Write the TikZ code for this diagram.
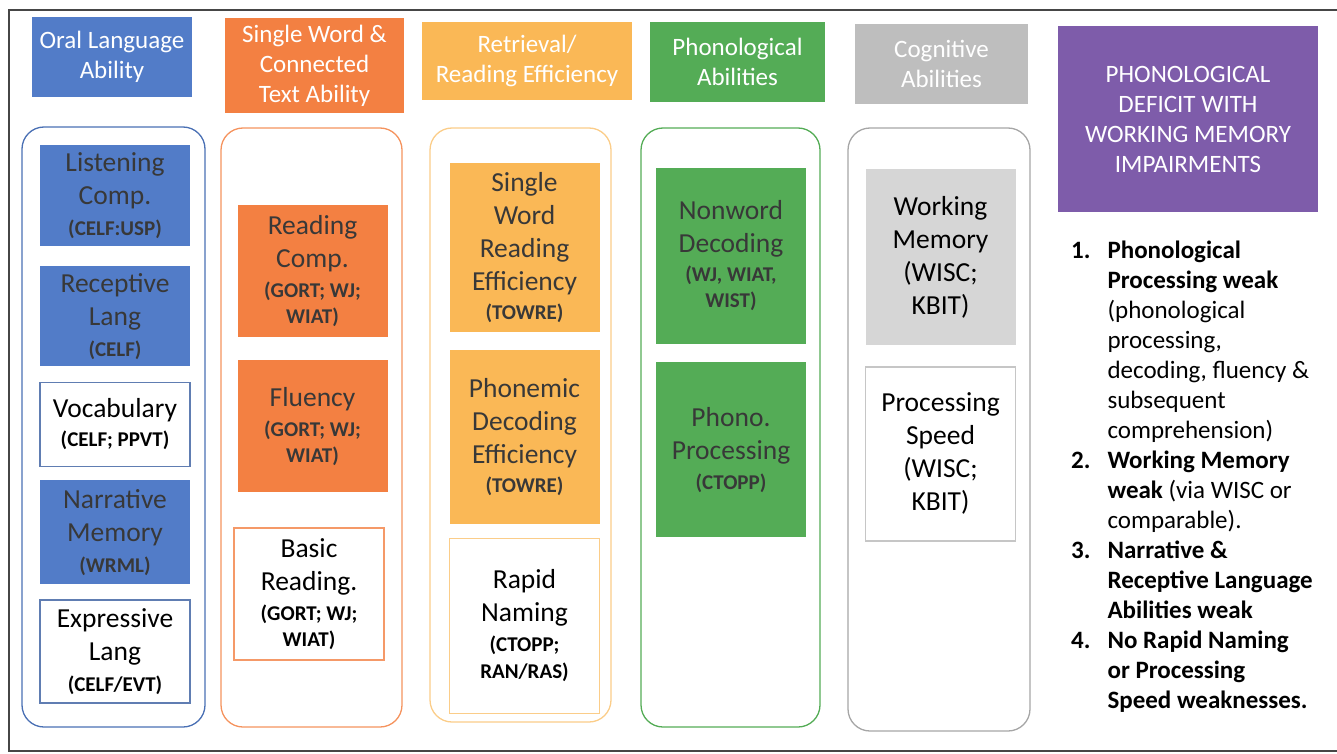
\documentclass[tikz,border=0pt]{standalone}
\usepackage{fontspec}
\setmainfont{Carlito}
\usetikzlibrary{positioning}
\definecolor{oralblue}{RGB}{82,124,200}
\definecolor{wordorange}{RGB}{243,128,66}
\definecolor{retrorange}{RGB}{250,184,86}
\definecolor{phongreen}{RGB}{84,172,86}
\definecolor{coggray}{RGB}{190,190,190}
\definecolor{wmgray}{RGB}{214,214,214}
\definecolor{defpurple}{RGB}{126,92,170}
\definecolor{framegray}{RGB}{70,70,70}
\newcommand{\headfont}{\fontsize{25}{30}\selectfont}
\newcommand{\boxfont}{\fontsize{27.5}{33}\selectfont}
\newcommand{\tname}[1]{{\fontsize{21}{24}\selectfont\bfseries #1}} % test names in brackets
\tikzset{
	frame/.style={draw=framegray, line width=1.4pt}, % outer frame of the figure
	column/.style={draw, rounded corners=22pt, line width=1.3pt}, % one column per ability
	header/.style={text=white, align=center, font=\headfont, inner sep=0pt},
	box/.style={align=center, font=\boxfont, text=black!78, minimum width=150pt, inner sep=0pt},
	plain/.style={box, fill=white, draw, line width=1.3pt, text=black}, % measures that are not weak
}

\begin{document}
\begin{tikzpicture}[x=1pt, y=-1pt]
	\useasboundingbox (0,0) rectangle (1337,754);
	\draw[frame] (1345,10) -- (9,10) -- (9,751) -- (1345,751);

	% headers
	\node[header, fill=oralblue, minimum width=160pt, minimum height=80pt] (oral) at (112,57) {Oral Language\\Ability};
	\node[header, fill=wordorange, minimum width=179pt, minimum height=95pt] (word) at (314.5,65.5) {Single Word \&\\Connected\\Text Ability};
	\node[header, fill=retrorange, minimum width=210pt, minimum height=78pt] (retr) at (527,61) {Retrieval/\\Reading Efficiency};
	\node[header, fill=phongreen, minimum width=175pt, minimum height=80pt] (phon) at (737.5,62) {Phonological\\Abilities};
	\node[header, fill=coggray, minimum width=173pt, minimum height=80pt] (cogn) at (941.5,64) {Cognitive\\Abilities};
	\node[header, fill=defpurple, minimum width=260pt, minimum height=186pt] (deficit) at (1188,119) {PHONOLOGICAL\\DEFICIT WITH\\WORKING MEMORY\\IMPAIRMENTS};

	% columns
	\node[column, draw=oralblue!90!black, minimum width=183pt, minimum height=600pt] (col1) at (113.5,427) {};
	\node[column, draw=wordorange!85, minimum width=181pt, minimum height=599pt] (col2) at (311.5,427.5) {};
	\node[column, draw=retrorange!70, minimum width=181pt, minimum height=594pt] (col3) at (520.5,425) {};
	\node[column, draw=phongreen, minimum width=179pt, minimum height=599pt] (col4) at (730.5,427.5) {};
	\node[column, draw=gray!70, minimum width=182pt, minimum height=603pt] (col5) at (939,429.5) {};

	% oral language
	\node[box, fill=oralblue, minimum height=101pt] (listen) at (115,195.5) {Listening\\Comp.\\[-2pt]\tname{(CELF:USP)}};
	\node[box, fill=oralblue, minimum height=100pt, below=20pt of listen] (recept) {Receptive\\Lang\\[-2pt]\tname{(CELF)}};
	\node[plain, draw=oralblue!70!gray, minimum height=84pt, below=15pt of recept] (vocab) {Vocabulary\\[-4pt]\tname{(CELF; PPVT)}};
	\node[box, fill=oralblue, minimum height=104pt, below=13pt of vocab] (narr) {Narrative\\Memory\\[-2pt]\tname{(WRML)}};
	\node[plain, draw=oralblue!70!gray, minimum height=103pt, below=15pt of narr] (expr) {Expressive\\Lang\\[-2pt]\tname{(CELF/EVT)}};

	% single word and connected text
	\node[box, fill=wordorange, minimum height=132pt] (readc) at (312.5,271) {Reading\\Comp.\\[-3pt]\tname{(GORT; WJ;}\\[-7pt]\tname{WIAT)}};
	\node[box, fill=wordorange, minimum height=132pt, below=23pt of readc] (fluency) {Fluency\\[-3pt]\tname{(GORT; WJ;}\\[-7pt]\tname{WIAT)}};
	\node[plain, draw=wordorange!80, minimum height=132pt] (basic) at (309,594) {Basic\\Reading.\\[-3pt]\tname{(GORT; WJ;}\\[-7pt]\tname{WIAT)}};

	% retrieval / reading efficiency
	\node[box, fill=retrorange, minimum height=169pt] (swre) at (524.5,247.5) {Single\\Word\\Reading\\Efficiency\\[-4pt]\tname{(TOWRE)}};
	\node[box, fill=retrorange, minimum height=174pt, below=18pt of swre] (pde) {Phonemic\\Decoding\\Efficiency\\[-4pt]\tname{(TOWRE)}};
	\node[plain, draw=retrorange!70, minimum height=175pt, below=13pt of pde] (rapid) {Rapid\\Naming\\[-3pt]\tname{(CTOPP;}\\[-6pt]\tname{RAN/RAS)}};

	% phonological abilities
	\node[box, fill=phongreen, minimum height=176pt] (nonword) at (731,256) {Nonword\\Decoding\\[-4pt]\tname{(WJ, WIAT,}\\[-7pt]\tname{WIST)}};
	\node[box, fill=phongreen, minimum height=175pt, below=18pt of nonword] (phono) {Phono.\\Processing\\[-3pt]\tname{(CTOPP)}};

	% cognitive abilities
	\node[box, fill=wmgray, text=black, minimum height=176pt] (wmem) at (940.5,257) {Working\\Memory\\(WISC;\\KBIT)};
	\node[plain, draw=gray!45, minimum height=174pt, below=21pt of wmem] (pspeed) {Processing\\Speed\\(WISC;\\KBIT)};

	% profile
	\node[anchor=north west, inner sep=0pt, font=\fontsize{25}{30}\selectfont] (profile) at (1071,237) {%
		\begin{tabular}{@{}r@{\hspace{17pt}}l@{}}
			\textbf{1.} & \textbf{Phonological}\\
			& \textbf{Processing weak}\\
			& (phonological\\
			& processing,\\
			& decoding, fluency \&\\
			& subsequent\\
			& comprehension)\\
			\textbf{2.} & \textbf{Working Memory}\\
			& \textbf{weak} (via WISC or\\
			& comparable).\\
			\textbf{3.} & \textbf{Narrative \&}\\
			& \textbf{Receptive Language}\\
			& \textbf{Abilities weak}\\
			\textbf{4.} & \textbf{No Rapid Naming}\\
			& \textbf{or Processing}\\
			& \textbf{Speed weaknesses.}
		\end{tabular}};
\end{tikzpicture}
\end{document}
